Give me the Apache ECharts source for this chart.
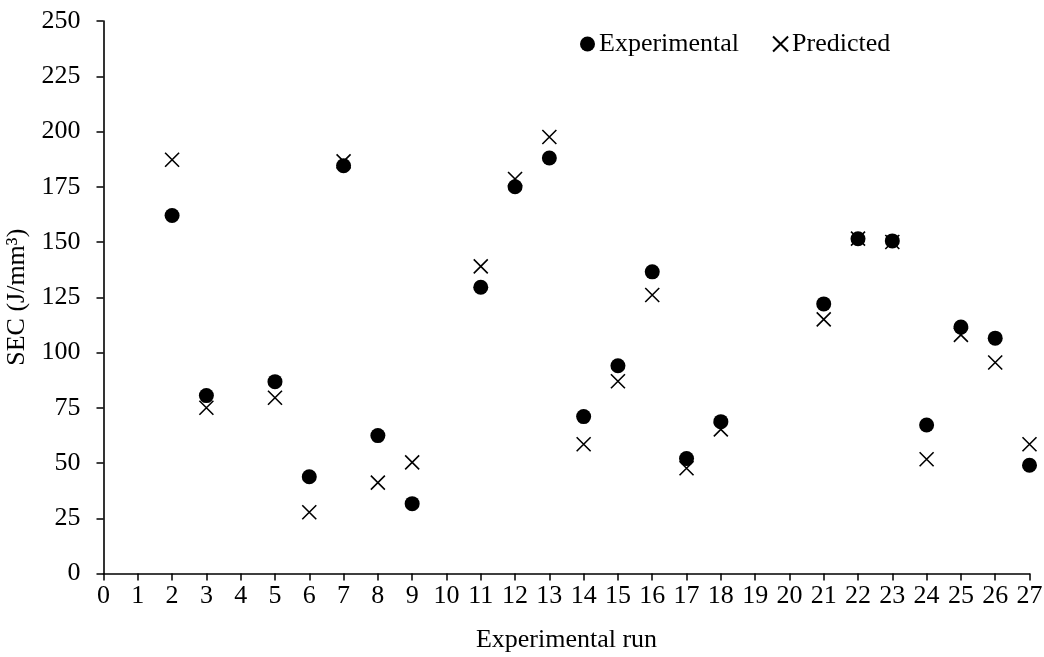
<!DOCTYPE html>
<html>
<head>
<meta charset="utf-8">
<style>
  html, body { margin: 0; padding: 0; background: #fff; }
  #chart { width: 1044px; height: 657px; }
</style>
<script src="https://cdn.jsdelivr.net/npm/echarts@6/dist/echarts.min.js"></script>
</head>
<body>
<div id="chart"></div>
<script>
// Experimental run numbers that have measurements
const runs = [2, 3, 5, 6, 7, 8, 9, 11, 12, 13, 14, 15, 16, 17, 18, 21, 22, 23, 24, 25, 26, 27];
// Specific energy consumption, J/mm^3
const experimental = [162, 80.5, 86.8, 43.8, 184.5, 62.4, 31.6, 129.5, 175, 188, 71, 94, 136.5, 52, 68.7, 122, 151.5, 150.5, 67.2, 111.5, 106.5, 49];
const predicted = [187.2, 75, 79.5, 27.7, 186.5, 41.1, 50.3, 139, 178.5, 197.5, 58.5, 87, 126, 47.6, 65.2, 115, 151.5, 150, 51.7, 108, 95.5, 58.5];
const seriesNames = ['Experimental', 'Predicted'];

const FONT = '"Liberation Serif", "Times New Roman", serif';
const FS = 26;
const crossPath = 'path://M0,0L10,10M10,0L0,10';

const pairs = (ys) => runs.map((r, i) => [r, ys[i]]);

const chart = echarts.init(document.getElementById('chart'), null, { renderer: 'canvas' });

chart.setOption({
  animation: false,
  backgroundColor: '#fff',
  textStyle: { fontFamily: FONT, color: '#000' },
  grid: {
    left: 103.5, right: 14.5, top: 21, bottom: 83.5,
    containLabel: false,
    outerBoundsMode: 'none'
  },
  legend: {
    data: seriesNames,
    left: 575,
    top: 26,
    itemWidth: 15,
    itemHeight: 15,
    itemGap: 33,
    textStyle: { fontFamily: FONT, fontSize: FS, color: '#000', padding: [0, 0, 0, -1] }
  },
  xAxis: {
    type: 'value',
    min: 0,
    max: 27,
    interval: 1,
    name: 'Experimental run',
    nameLocation: 'middle',
    nameGap: 54,
    nameTextStyle: { fontFamily: FONT, fontSize: FS, color: '#000' },
    axisLine: { show: true, lineStyle: { color: '#000', width: 1.6 } },
    axisTick: { show: true, inside: false, length: 7, lineStyle: { color: '#000', width: 1.5 } },
    axisLabel: { fontFamily: FONT, fontSize: FS, color: '#000', margin: 10 },
    splitLine: { show: false }
  },
  yAxis: {
    type: 'value',
    min: 0,
    max: 250,
    interval: 25,
    name: 'SEC (J/mm³)',
    nameLocation: 'middle',
    nameRotate: 90,
    nameGap: 66,
    nameTextStyle: { fontFamily: FONT, fontSize: FS, color: '#000' },
    axisLine: { show: true, lineStyle: { color: '#000', width: 1.6 } },
    axisTick: { show: true, inside: false, length: 7, lineStyle: { color: '#000', width: 1.5 } },
    axisLabel: { fontFamily: FONT, fontSize: FS, color: '#000', margin: 23 },
    splitLine: { show: false }
  },
  series: [
    {
      name: seriesNames[0],
      type: 'scatter',
      symbol: 'circle',
      symbolSize: 15,
      itemStyle: { color: '#000', opacity: 1 },
      data: pairs(experimental)
    },
    {
      name: seriesNames[1],
      type: 'scatter',
      symbol: crossPath,
      symbolSize: 14,
      itemStyle: { color: 'rgba(0,0,0,0)', borderColor: '#000', borderWidth: 1.6, opacity: 1 },
      data: pairs(predicted)
    }
  ]
});
</script>
</body>
</html>
